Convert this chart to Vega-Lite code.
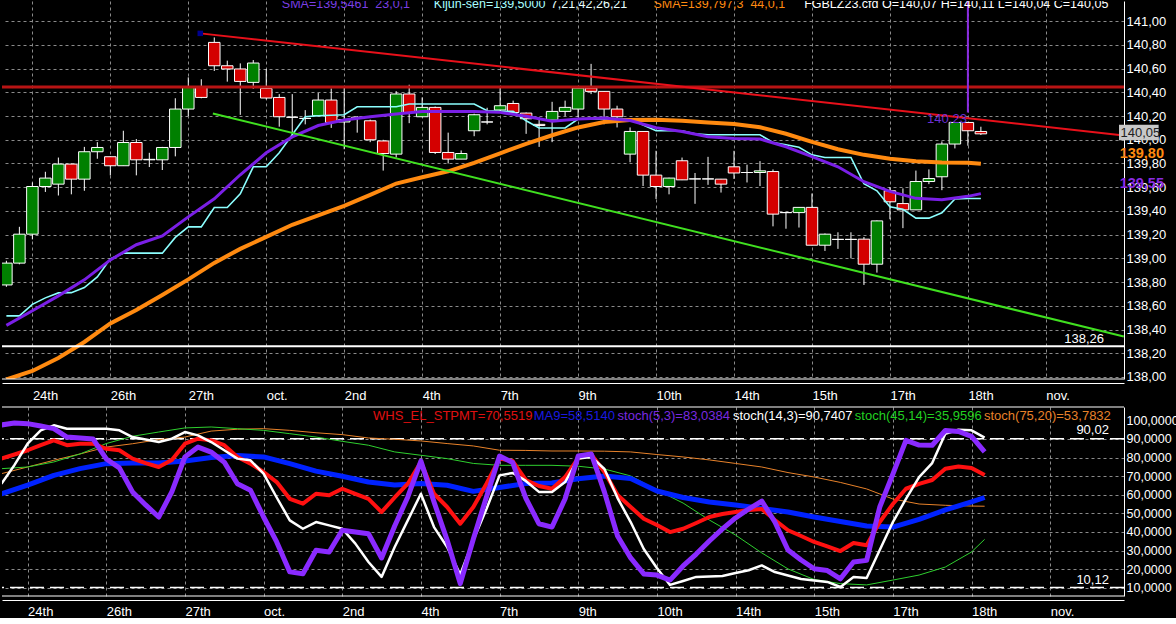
{
  "$schema": "https://vega.github.io/schema/vega-lite/v6.json",
  "background": "black",
  "padding": 0,
  "spacing": 4,
  "config": {
    "font": "Liberation Sans",
    "view": {"stroke": null},
    "axis": {"ticks": false, "title": null, "labelColor": "white", "domainColor": "white", "gridColor": "#8a8a8a", "gridDash": [3, 3], "labelFlush": false, "labelOverlap": false, "labelFont": "Liberation Sans", "tickCount": 40}
  },
  "datasets": {
    "one": [{}],
    "bars": [
      {"i":0,"o":138.776,"h":138.98,"l":138.76,"c":138.96,"kij":138.515,"s23":138.435,"s44":137.979},
      {"i":1,"o":138.96,"h":139.266,"l":138.95,"c":139.204,"kij":138.515},
      {"i":2,"o":139.204,"h":139.64,"l":139.16,"c":139.606,"kij":138.612,"s23":138.559,"s44":138.051},
      {"i":3,"o":139.606,"h":139.73,"l":139.56,"c":139.677,"kij":138.667},
      {"i":4,"o":139.626,"h":139.85,"l":139.53,"c":139.795,"kij":138.709,"s23":138.684,"s44":138.16},
      {"i":5,"o":139.795,"h":139.8,"l":139.54,"c":139.668,"kij":138.711},
      {"i":6,"o":139.668,"h":139.94,"l":139.57,"c":139.899,"kij":138.754,"s23":138.819,"s44":138.295},
      {"i":7,"o":139.899,"h":139.98,"l":139.84,"c":139.935,"kij":138.844},
      {"i":8,"o":139.857,"h":139.86,"l":139.7,"c":139.781,"kij":138.996,"s23":138.987,"s44":138.451},
      {"i":9,"o":139.781,"h":140.076,"l":139.78,"c":139.977,"kij":139.044},
      {"i":10,"o":139.977,"h":140.006,"l":139.7,"c":139.831,"kij":139.044,"s23":139.115,"s44":138.565},
      {"i":11,"o":139.831,"h":139.89,"l":139.77,"c":139.835,"kij":139.044},
      {"i":12,"o":139.831,"h":139.94,"l":139.745,"c":139.935,"kij":139.044,"s23":139.19,"s44":138.692},
      {"i":13,"o":139.935,"h":140.35,"l":139.86,"c":140.259,"kij":139.177},
      {"i":14,"o":140.259,"h":140.526,"l":140.2,"c":140.441,"kij":139.266,"s23":139.35,"s44":138.823},
      {"i":15,"o":140.441,"h":140.51,"l":140.35,"c":140.357,"kij":139.266},
      {"i":16,"o":140.821,"h":140.863,"l":140.58,"c":140.624,"kij":139.429,"s23":139.502,"s44":138.962},
      {"i":17,"o":140.624,"h":140.667,"l":140.49,"c":140.597,"kij":139.429},
      {"i":18,"o":140.597,"h":140.644,"l":140.21,"c":140.492,"kij":139.544,"s23":139.705,"s44":139.08},
      {"i":19,"o":140.484,"h":140.672,"l":140.43,"c":140.647,"kij":139.772},
      {"i":20,"o":140.433,"h":140.597,"l":140.34,"c":140.352,"kij":139.772,"s23":139.89,"s44":139.181},
      {"i":21,"o":140.357,"h":140.385,"l":140.11,"c":140.194,"kij":139.89},
      {"i":22,"o":140.19,"h":140.385,"l":140.02,"c":140.19,"kij":140.042,"s23":140.024,"s44":139.283},
      {"i":23,"o":140.18,"h":140.25,"l":140.13,"c":140.18,"kij":140.194},
      {"i":24,"o":140.203,"h":140.394,"l":140.2,"c":140.335,"kij":140.203,"s23":140.12,"s44":139.363},
      {"i":25,"o":140.335,"h":140.433,"l":140.1,"c":140.146,"kij":140.207},
      {"i":26,"o":140.15,"h":140.44,"l":139.92,"c":140.17,"kij":140.211,"s23":140.166,"s44":139.443},
      {"i":27,"o":140.19,"h":140.2,"l":140.06,"c":140.18,"kij":140.278},
      {"i":28,"o":140.16,"h":140.17,"l":139.98,"c":140.0,"kij":140.278,"s23":140.194,"s44":139.536},
      {"i":29,"o":139.99,"h":140.0,"l":139.74,"c":139.884,"kij":140.278},
      {"i":30,"o":139.879,"h":140.41,"l":139.85,"c":140.386,"kij":140.278,"s23":140.217,"s44":139.631},
      {"i":31,"o":140.386,"h":140.464,"l":140.14,"c":140.23,"kij":140.301},
      {"i":32,"o":140.194,"h":140.357,"l":140.19,"c":140.273,"kij":140.301,"s23":140.239,"s44":139.684},
      {"i":33,"o":140.273,"h":140.28,"l":139.88,"c":139.893,"kij":140.301},
      {"i":34,"o":139.893,"h":140.06,"l":139.8,"c":139.837,"kij":140.301,"s23":140.239,"s44":139.734},
      {"i":35,"o":139.837,"h":139.91,"l":139.837,"c":139.884,"kij":140.301},
      {"i":36,"o":140.076,"h":140.22,"l":140.03,"c":140.211,"kij":140.301,"s23":140.239,"s44":139.806},
      {"i":37,"o":140.15,"h":140.27,"l":140.13,"c":140.15,"kij":140.245},
      {"i":38,"o":140.251,"h":140.44,"l":140.24,"c":140.287,"kij":140.239,"s23":140.231,"s44":139.886},
      {"i":39,"o":140.306,"h":140.33,"l":140.22,"c":140.23,"kij":140.239},
      {"i":40,"o":140.225,"h":140.23,"l":140.05,"c":140.177,"kij":140.16,"s23":140.198,"s44":139.966},
      {"i":41,"o":140.13,"h":140.19,"l":139.94,"c":140.12,"kij":140.099},
      {"i":42,"o":140.166,"h":140.32,"l":139.98,"c":140.239,"kij":140.099,"s23":140.156,"s44":140.038},
      {"i":43,"o":140.239,"h":140.33,"l":140.2,"c":140.273,"kij":140.099},
      {"i":44,"o":140.259,"h":140.44,"l":140.19,"c":140.436,"kij":140.175,"s23":140.176,"s44":140.104},
      {"i":45,"o":140.436,"h":140.64,"l":140.385,"c":140.408,"kij":140.175},
      {"i":46,"o":140.408,"h":140.41,"l":140.13,"c":140.259,"kij":140.175,"s23":140.183,"s44":140.149},
      {"i":47,"o":140.259,"h":140.287,"l":140.104,"c":140.194,"kij":140.175},
      {"i":48,"o":139.879,"h":140.104,"l":139.81,"c":140.07,"kij":140.175,"s23":140.162,"s44":140.166},
      {"i":49,"o":140.07,"h":140.07,"l":139.61,"c":139.702,"kij":140.124},
      {"i":50,"o":139.702,"h":139.907,"l":139.5,"c":139.606,"kij":140.076,"s23":140.101,"s44":140.169},
      {"i":51,"o":139.606,"h":139.68,"l":139.54,"c":139.677,"kij":140.076},
      {"i":52,"o":139.823,"h":139.85,"l":139.66,"c":139.662,"kij":140.076,"s23":140.069,"s44":140.16},
      {"i":53,"o":139.67,"h":139.72,"l":139.46,"c":139.67,"kij":140.051},
      {"i":54,"o":139.67,"h":139.856,"l":139.62,"c":139.67,"kij":140.042,"s23":140.025,"s44":140.146},
      {"i":55,"o":139.668,"h":139.67,"l":139.555,"c":139.626,"kij":140.042},
      {"i":56,"o":139.772,"h":139.907,"l":139.67,"c":139.72,"kij":140.042,"s23":140.011,"s44":140.132},
      {"i":57,"o":139.724,"h":139.79,"l":139.64,"c":139.724,"kij":140.042},
      {"i":58,"o":139.724,"h":139.82,"l":139.61,"c":139.738,"kij":140.042,"s23":140.006,"s44":140.105},
      {"i":59,"o":139.732,"h":139.75,"l":139.27,"c":139.373,"kij":139.977},
      {"i":60,"o":139.386,"h":139.39,"l":139.25,"c":139.386,"kij":139.958,"s23":139.941,"s44":140.051},
      {"i":61,"o":139.386,"h":139.43,"l":139.26,"c":139.43,"kij":139.937},
      {"i":62,"o":139.43,"h":139.547,"l":139.11,"c":139.111,"kij":139.873,"s23":139.858,"s44":139.983},
      {"i":63,"o":139.111,"h":139.21,"l":139.063,"c":139.204,"kij":139.851},
      {"i":64,"o":139.16,"h":139.22,"l":139.08,"c":139.16,"kij":139.851,"s23":139.772,"s44":139.92},
      {"i":65,"o":139.16,"h":139.22,"l":139.0,"c":139.16,"kij":139.851},
      {"i":66,"o":139.162,"h":139.18,"l":138.776,"c":138.951,"kij":139.629,"s23":139.646,"s44":139.873},
      {"i":67,"o":138.951,"h":139.32,"l":138.88,"c":139.316,"kij":139.57},
      {"i":68,"o":139.57,"h":139.6,"l":139.33,"c":139.477,"kij":139.435,"s23":139.565,"s44":139.84},
      {"i":69,"o":139.462,"h":139.59,"l":139.255,"c":139.409,"kij":139.414},
      {"i":70,"o":139.409,"h":139.74,"l":139.409,"c":139.648,"kij":139.339,"s23":139.506,"s44":139.819},
      {"i":71,"o":139.648,"h":139.75,"l":139.626,"c":139.673,"kij":139.339},
      {"i":72,"o":139.688,"h":139.986,"l":139.575,"c":139.964,"kij":139.384,"s23":139.494,"s44":139.808},
      {"i":73,"o":139.964,"h":140.15,"l":139.927,"c":140.146,"kij":139.5},
      {"i":74,"o":140.146,"h":140.15,"l":139.95,"c":140.076,"kij":139.505,"s23":139.523,"s44":139.806},
      {"i":75,"o":140.07,"h":140.11,"l":140.04,"c":140.05,"kij":139.505,"s23":139.546,"s44":139.797}
    ],
    "trend": [
      {"k":"red","i":14.92,"v":140.897},
      {"k":"red","i":86,"v":140.037},
      {"k":"grn","i":15.89,"v":140.222},
      {"k":"grn","i":86,"v":138.341}
    ],
    "osc": [
      {"i":0,"whs":79.4,"st5":97.5,"st14":65.9,"ma9":60.5,"st45":74.0,"st75":71.3},
      {"i":1,"whs":81.6,"st5":98.5,"st14":76.0},
      {"i":2,"whs":83.9,"st5":98.2,"st14":87.4,"ma9":65.1,"st45":74.9,"st75":74.9},
      {"i":3,"whs":86.7,"st5":96.9,"st14":94.6},
      {"i":4,"whs":89.2,"st5":95.5,"st14":97.3,"ma9":70.4,"st45":77.6,"st75":78.5},
      {"i":5,"whs":86.6,"st5":91.0,"st14":95.5},
      {"i":6,"whs":87.4,"st5":90.5,"st14":95.5,"ma9":74.0,"st45":81.9,"st75":81.9},
      {"i":7,"whs":87.4,"st5":89.9,"st14":95.5},
      {"i":8,"whs":84.7,"st5":79.2,"st14":95.5,"ma9":76.7,"st45":87.5,"st75":85.6},
      {"i":9,"whs":83.9,"st5":74.4,"st14":94.6},
      {"i":10,"whs":79.4,"st5":61.5,"st14":91.0,"ma9":77.0,"st45":91.4,"st75":87.4},
      {"i":11,"whs":77.0,"st5":54.5,"st14":89.7},
      {"i":12,"whs":74.9,"st5":48.0,"st14":88.3,"ma9":77.0,"st45":93.7,"st75":89.6},
      {"i":13,"whs":78.7,"st5":61.5,"st14":90.1},
      {"i":14,"whs":87.4,"st5":80.3,"st14":93.7,"ma9":78.1,"st45":95.9,"st75":91.0},
      {"i":15,"whs":90.1,"st5":85.6,"st14":91.9},
      {"i":16,"whs":89.2,"st5":82.9,"st14":88.3,"ma9":80.0,"st45":96.4,"st75":94.2},
      {"i":17,"whs":86.6,"st5":77.5,"st14":83.9},
      {"i":18,"whs":80.3,"st5":65.9,"st14":79.4,"ma9":81.1,"st45":95.5,"st75":95.2},
      {"i":19,"whs":76.7,"st5":62.4,"st14":78.5},
      {"i":20,"whs":72.2,"st5":48.0,"st14":71.3,"ma9":80.3,"st45":94.6,"st75":95.5},
      {"i":21,"whs":66.8,"st5":34.6,"st14":58.5},
      {"i":22,"whs":57.8,"st5":18.5,"st14":46.2,"ma9":76.7,"st45":92.8,"st75":94.6},
      {"i":23,"whs":55.2,"st5":17.5,"st14":41.7},
      {"i":24,"whs":60.5,"st5":30.1,"st14":45.3,"ma9":72.7,"st45":91.0,"st75":93.3},
      {"i":25,"whs":59.7,"st5":29.2,"st14":43.5},
      {"i":26,"whs":63.2,"st5":40.9,"st14":41.7,"ma9":69.9,"st45":88.7,"st75":92.3},
      {"i":27,"whs":60.5,"st5":39.9,"st14":33.7},
      {"i":28,"whs":57.8,"st5":39.0,"st14":23.8,"ma9":66.8,"st45":86.6,"st75":90.5},
      {"i":29,"whs":50.7,"st5":26.0,"st14":15.8},
      {"i":30,"whs":58.5,"st5":43.2,"st14":31.9,"ma9":65.2,"st45":83.0,"st75":89.8},
      {"i":31,"whs":65.9,"st5":58.8,"st14":46.2},
      {"i":32,"whs":77.6,"st5":78.1,"st14":60.5,"ma9":66.0,"st45":81.2,"st75":88.9},
      {"i":33,"whs":60.5,"st5":56.1,"st14":42.6},
      {"i":34,"whs":53.4,"st5":35.6,"st14":31.9,"ma9":65.1,"st45":79.4,"st75":87.5},
      {"i":35,"whs":44.4,"st5":12.2,"st14":17.1},
      {"i":36,"whs":53.4,"st5":36.2,"st14":35.6,"ma9":61.8,"st45":76.8,"st75":86.2},
      {"i":37,"whs":65.9,"st5":58.8,"st14":52.3},
      {"i":38,"whs":79.4,"st5":80.8,"st14":70.4,"ma9":63.9,"st45":75.8,"st75":83.9},
      {"i":39,"whs":78.1,"st5":77.3,"st14":71.7},
      {"i":40,"whs":67.9,"st5":58.2,"st14":67.4,"ma9":66.0,"st45":75.8,"st75":83.8},
      {"i":41,"whs":64.7,"st5":44.4,"st14":61.5},
      {"i":42,"whs":63.2,"st5":42.6,"st14":61.5,"ma9":66.3,"st45":75.8,"st75":83.5},
      {"i":43,"whs":69.5,"st5":57.8,"st14":66.8},
      {"i":44,"whs":79.7,"st5":80.8,"st14":79.4,"ma9":68.6,"st45":75.3,"st75":83.5},
      {"i":45,"whs":81.6,"st5":81.9,"st14":80.3},
      {"i":46,"whs":72.2,"st5":61.4,"st14":73.8,"ma9":70.1,"st45":73.8,"st75":83.4},
      {"i":47,"whs":59.8,"st5":37.8,"st14":58.2},
      {"i":48,"whs":53.4,"st5":26.0,"st14":45.3,"ma9":68.7,"st45":70.1,"st75":83.0},
      {"i":49,"whs":47.1,"st5":17.4,"st14":30.8},
      {"i":50,"whs":43.7,"st5":16.8,"st14":20.6,"ma9":62.0,"st45":62.5,"st75":81.6},
      {"i":51,"whs":39.9,"st5":14.1,"st14":11.5},
      {"i":52,"whs":41.7,"st5":21.7,"st14":13.6,"ma9":58.5,"st45":55.5,"st75":80.3},
      {"i":53,"whs":44.8,"st5":28.1,"st14":15.8},
      {"i":54,"whs":48.0,"st5":35.1,"st14":16.0,"ma9":56.1,"st45":46.4,"st75":78.7},
      {"i":55,"whs":49.6,"st5":41.6,"st14":16.3},
      {"i":56,"whs":50.7,"st5":47.5,"st14":17.9,"ma9":54.5,"st45":38.3,"st75":76.8},
      {"i":57,"whs":51.8,"st5":52.3,"st14":19.4},
      {"i":58,"whs":52.3,"st5":56.6,"st14":22.0,"ma9":52.6,"st45":28.7,"st75":74.9},
      {"i":59,"whs":46.4,"st5":45.3,"st14":18.4},
      {"i":60,"whs":40.9,"st5":30.3,"st14":16.6,"ma9":50.7,"st45":20.1,"st75":71.9},
      {"i":61,"whs":37.8,"st5":24.9,"st14":14.7},
      {"i":62,"whs":34.6,"st5":20.2,"st14":13.9,"ma9":48.0,"st45":14.4,"st75":69.5},
      {"i":63,"whs":32.2,"st5":19.2,"st14":13.1},
      {"i":64,"whs":29.7,"st5":14.8,"st14":10.4,"ma9":45.6,"st45":12.2,"st75":66.6},
      {"i":65,"whs":34.0,"st5":23.8,"st14":15.8},
      {"i":66,"whs":32.8,"st5":24.7,"st14":15.2,"ma9":43.2,"st45":11.5,"st75":63.1},
      {"i":67,"whs":45.3,"st5":53.4,"st14":30.3},
      {"i":68,"whs":55.0,"st5":71.1,"st14":45.3,"ma9":42.6,"st45":14.1,"st75":57.7},
      {"i":69,"whs":63.2,"st5":89.2,"st14":57.7},
      {"i":70,"whs":65.8,"st5":86.7,"st14":69.5,"ma9":46.7,"st45":16.8,"st75":55.0},
      {"i":71,"whs":67.9,"st5":86.6,"st14":77.0},
      {"i":72,"whs":74.0,"st5":94.5,"st14":92.8,"ma9":51.8,"st45":21.1,"st75":54.3},
      {"i":73,"whs":75.2,"st5":94.0,"st14":94.9},
      {"i":74,"whs":74.4,"st5":91.4,"st14":94.6,"ma9":56.1,"st45":29.2,"st75":53.9},
      {"i":75,"whs":70.6,"st5":83.0,"st14":90.7,"ma9":58.5,"st45":36.0,"st75":53.8}
    ]
  },
  "vconcat": [
    {
      "width": 1122,
      "height": 378,
      "layer": [
        {
          "data": {"name": "bars"},
          "mark": {"type": "rule", "color": "white", "strokeWidth": 1, "clip": true},
          "encoding": {
            "x": {"field": "i", "type": "quantitative", "scale": {"domain": [0.047, 85.63], "nice": false, "zero": false},
              "axis": {"values": [2, 8, 14, 20, 26, 32, 38, 44, 50, 56, 62, 68, 74, 80], "labelExpr": "['24th','26th','27th','oct.','2nd','4th','7th','9th','10th','14th','15th','17th','18th','nov.'][round((datum.value-2)/6)]", "labelAlign": "left", "labelPadding": 6, "offset": 4, "grid": true, "labelFontSize": 13, "labelOverlap": false, "tickCount": 40}},
            "y": {"field": "l", "type": "quantitative", "scale": {"domain": [137.983, 141.17], "nice": false, "zero": false},
              "axis": {"orient": "right", "values": [138, 138.2, 138.4, 138.6, 138.8, 139, 139.2, 139.4, 139.6, 139.8, 140, 140.2, 140.4, 140.6, 140.8, 141], "labelExpr": "replace(format(datum.value, '.2f'), '.', ',')", "grid": true, "labelFontSize": 13, "labelPadding": 2, "labelOverlap": false, "tickCount": 40}},
            "y2": {"field": "h"}
          }
        },
        {
          "data": {"name": "bars"},
          "mark": {"type": "bar", "orient": "vertical", "size": 11.5, "stroke": "white", "strokeWidth": 1, "clip": true},
          "encoding": {
            "x": {"field": "i", "type": "quantitative", "scale": {"domain": [0.047, 85.63], "nice": false, "zero": false}},
            "y": {"field": "o", "type": "quantitative", "scale": {"domain": [137.983, 141.17], "nice": false, "zero": false}},
            "y2": {"field": "c"},
            "fill": {"condition": {"test": "datum.c >= datum.o", "value": "#008000"}, "value": "#d40000"}
          }
        },
        {
          "data": {"name": "bars"},
          "transform": [{"filter": "isValid(datum.kij)"}],
          "mark": {"type": "line", "color": "#8cffff", "strokeWidth": 1.6, "clip": true},
          "encoding": {
            "x": {"field": "i", "type": "quantitative", "scale": {"domain": [0.047, 85.63], "nice": false, "zero": false}},
            "y": {"field": "kij", "type": "quantitative", "scale": {"domain": [137.983, 141.17], "nice": false, "zero": false}}
          }
        },
        {
          "data": {"name": "bars"},
          "transform": [{"filter": "isValid(datum.s44)"}],
          "mark": {"type": "line", "color": "#ff8a10", "strokeWidth": 4, "clip": true},
          "encoding": {
            "x": {"field": "i", "type": "quantitative", "scale": {"domain": [0.047, 85.63], "nice": false, "zero": false}},
            "y": {"field": "s44", "type": "quantitative", "scale": {"domain": [137.983, 141.17], "nice": false, "zero": false}}
          }
        },
        {
          "data": {"name": "bars"},
          "transform": [{"filter": "isValid(datum.s23)"}],
          "mark": {"type": "line", "color": "#7a1fe6", "strokeWidth": 3, "clip": true},
          "encoding": {
            "x": {"field": "i", "type": "quantitative", "scale": {"domain": [0.047, 85.63], "nice": false, "zero": false}},
            "y": {"field": "s23", "type": "quantitative", "scale": {"domain": [137.983, 141.17], "nice": false, "zero": false}}
          }
        },
        {
          "data": {"name": "one"},
          "mark": {"type": "rule", "color": "#b81414", "strokeWidth": 3},
          "encoding": {"y": {"datum": 140.445, "type": "quantitative", "scale": {"domain": [137.983, 141.17], "nice": false, "zero": false}}}
        },
        {
          "data": {"name": "one"},
          "mark": {"type": "rule", "color": "white", "strokeWidth": 2},
          "encoding": {"y": {"datum": 138.26, "type": "quantitative", "scale": {"domain": [137.983, 141.17], "nice": false, "zero": false}}}
        },
        {
          "data": {"name": "one"},
          "mark": {"type": "rule", "color": "white", "strokeWidth": 1},
          "encoding": {"y": {"datum": 137.983, "type": "quantitative", "scale": {"domain": [137.983, 141.17], "nice": false, "zero": false}}}
        },
        {
          "data": {"name": "trend"},
          "transform": [{"filter": "datum.k === 'red'"}],
          "mark": {"type": "line", "color": "#e8101a", "strokeWidth": 2, "clip": true},
          "encoding": {
            "x": {"field": "i", "type": "quantitative", "scale": {"domain": [0.047, 85.63], "nice": false, "zero": false}},
            "y": {"field": "v", "type": "quantitative", "scale": {"domain": [137.983, 141.17], "nice": false, "zero": false}}
          }
        },
        {
          "data": {"name": "trend"},
          "transform": [{"filter": "datum.k === 'grn'"}],
          "mark": {"type": "line", "color": "#40e020", "strokeWidth": 2, "clip": true},
          "encoding": {
            "x": {"field": "i", "type": "quantitative", "scale": {"domain": [0.047, 85.63], "nice": false, "zero": false}},
            "y": {"field": "v", "type": "quantitative", "scale": {"domain": [137.983, 141.17], "nice": false, "zero": false}}
          }
        },
        {
          "data": {"name": "one"},
          "mark": {"type": "rule", "color": "#8a2be2", "strokeWidth": 2},
          "encoding": {
            "x": {"datum": 74, "type": "quantitative", "scale": {"domain": [0.047, 85.63], "nice": false, "zero": false}},
            "y": {"datum": 141.17, "type": "quantitative", "scale": {"domain": [137.983, 141.17], "nice": false, "zero": false}},
            "y2": {"datum": 140.23}
          }
        },
        {
          "data": {"name": "one"},
          "mark": {"type": "square", "color": "#000090", "size": 30, "opacity": 1},
          "encoding": {
            "x": {"datum": 14.92, "type": "quantitative", "scale": {"domain": [0.047, 85.63], "nice": false, "zero": false}},
            "y": {"datum": 140.897, "type": "quantitative", "scale": {"domain": [137.983, 141.17], "nice": false, "zero": false}}
          }
        },
        {
          "data": {"name": "one"},
          "mark": {"type": "text", "text": "140,23", "color": "#6a2fd0", "fontSize": 13, "align": "right", "baseline": "top", "dx": -1},
          "encoding": {
            "x": {"datum": 74, "type": "quantitative", "scale": {"domain": [0.047, 85.63], "nice": false, "zero": false}},
            "y": {"datum": 140.225, "type": "quantitative", "scale": {"domain": [137.983, 141.17], "nice": false, "zero": false}}
          }
        },
        {
          "data": {"name": "one"},
          "mark": {"type": "text", "text": "138,26", "color": "white", "fontSize": 13, "align": "right", "baseline": "middle"},
          "encoding": {
            "x": {"datum": 84.48, "type": "quantitative", "scale": {"domain": [0.047, 85.63], "nice": false, "zero": false}},
            "y": {"datum": 138.318, "type": "quantitative", "scale": {"domain": [137.983, 141.17], "nice": false, "zero": false}}
          }
        },
        {
          "data": {"name": "one"},
          "mark": {"type": "rect", "color": "#c8c8c8"},
          "encoding": {
            "x": {"datum": 85.63, "type": "quantitative", "scale": {"domain": [0.047, 85.63], "nice": false, "zero": false}},
            "x2": {"datum": 88.68},
            "y": {"datum": 140.127, "type": "quantitative", "scale": {"domain": [137.983, 141.17], "nice": false, "zero": false}},
            "y2": {"datum": 139.997}
          }
        },
        {
          "data": {"name": "one"},
          "mark": {"type": "text", "text": "140,05", "color": "#202020", "fontSize": 13, "align": "left", "baseline": "middle"},
          "encoding": {
            "x": {"datum": 85.75, "type": "quantitative", "scale": {"domain": [0.047, 85.63], "nice": false, "zero": false}},
            "y": {"datum": 140.058, "type": "quantitative", "scale": {"domain": [137.983, 141.17], "nice": false, "zero": false}}
          }
        },
        {
          "data": {"name": "one"},
          "mark": {"type": "text", "text": "139,80", "color": "#ff8a10", "fontSize": 14.5, "fontWeight": "bold", "align": "left", "baseline": "middle"},
          "encoding": {
            "x": {"datum": 85.68, "type": "quantitative", "scale": {"domain": [0.047, 85.63], "nice": false, "zero": false}},
            "y": {"datum": 139.884, "type": "quantitative", "scale": {"domain": [137.983, 141.17], "nice": false, "zero": false}}
          }
        },
        {
          "data": {"name": "one"},
          "mark": {"type": "text", "text": "139,55", "color": "#8a2be2", "fontSize": 14.5, "fontWeight": "bold", "align": "left", "baseline": "middle"},
          "encoding": {
            "x": {"datum": 85.68, "type": "quantitative", "scale": {"domain": [0.047, 85.63], "nice": false, "zero": false}},
            "y": {"datum": 139.631, "type": "quantitative", "scale": {"domain": [137.983, 141.17], "nice": false, "zero": false}}
          }
        },
        {
          "data": {"name": "one"},
          "mark": {"type": "text", "text": "SMA=139,5461\u00a0\u00a023,0,1", "color": "#7b3fe4", "fontSize": 12.5, "align": "left", "baseline": "middle", "clip": true},
          "encoding": {
            "x": {"datum": 21.2, "type": "quantitative", "scale": {"domain": [0.047, 85.63], "nice": false, "zero": false}},
            "y": {"datum": 141.145, "type": "quantitative", "scale": {"domain": [137.983, 141.17], "nice": false, "zero": false}}
          }
        },
        {
          "data": {"name": "one"},
          "mark": {"type": "text", "text": "Kijun-sen=139,5000", "color": "#a8ffff", "fontSize": 12.5, "align": "left", "baseline": "middle", "clip": true},
          "encoding": {
            "x": {"datum": 32.9, "type": "quantitative", "scale": {"domain": [0.047, 85.63], "nice": false, "zero": false}},
            "y": {"datum": 141.145, "type": "quantitative", "scale": {"domain": [137.983, 141.17], "nice": false, "zero": false}}
          }
        },
        {
          "data": {"name": "one"},
          "mark": {"type": "text", "text": "7,21,42,26,21", "color": "#e8ffff", "fontSize": 12.5, "align": "left", "baseline": "middle", "clip": true},
          "encoding": {
            "x": {"datum": 41.9, "type": "quantitative", "scale": {"domain": [0.047, 85.63], "nice": false, "zero": false}},
            "y": {"datum": 141.145, "type": "quantitative", "scale": {"domain": [137.983, 141.17], "nice": false, "zero": false}}
          }
        },
        {
          "data": {"name": "one"},
          "mark": {"type": "text", "text": "SMA=139,797,3\u00a0\u00a044,0,1", "color": "#ff8a10", "fontSize": 12.5, "align": "left", "baseline": "middle", "clip": true},
          "encoding": {
            "x": {"datum": 49.8, "type": "quantitative", "scale": {"domain": [0.047, 85.63], "nice": false, "zero": false}},
            "y": {"datum": 141.145, "type": "quantitative", "scale": {"domain": [137.983, 141.17], "nice": false, "zero": false}}
          }
        },
        {
          "data": {"name": "one"},
          "mark": {"type": "text", "text": "FGBLZ23.cfd O=140,07 H=140,11 L=140,04 C=140,05", "color": "white", "fontSize": 12.5, "align": "left", "baseline": "middle", "clip": true},
          "encoding": {
            "x": {"datum": 61.4, "type": "quantitative", "scale": {"domain": [0.047, 85.63], "nice": false, "zero": false}},
            "y": {"datum": 141.145, "type": "quantitative", "scale": {"domain": [137.983, 141.17], "nice": false, "zero": false}}
          }
        }
      ]
    },
    {
      "width": 1122,
      "height": 189,
      "layer": [
        {
          "data": {"name": "one"},
          "mark": {"type": "rule", "color": "white", "strokeWidth": 1.5, "strokeDash": [14, 6]},
          "encoding": {"y": {"datum": 90.02, "type": "quantitative", "scale": {"domain": [5.54, 107.15], "nice": false, "zero": false}}}
        },
        {
          "data": {"name": "one"},
          "mark": {"type": "rule", "color": "white", "strokeWidth": 1.5, "strokeDash": [14, 6]},
          "encoding": {"y": {"datum": 10.12, "type": "quantitative", "scale": {"domain": [5.54, 107.15], "nice": false, "zero": false}}}
        },
        {
          "data": {"name": "one"},
          "mark": {"type": "rule", "color": "white", "strokeWidth": 1},
          "encoding": {"y": {"datum": 107.15, "type": "quantitative", "scale": {"domain": [5.54, 107.15], "nice": false, "zero": false}}}
        },
        {
          "data": {"name": "one"},
          "mark": {"type": "rule", "color": "white", "strokeWidth": 1},
          "encoding": {"y": {"datum": 5.54, "type": "quantitative", "scale": {"domain": [5.54, 107.15], "nice": false, "zero": false}}}
        },
        {
          "data": {"name": "osc"},
          "transform": [{"filter": "isValid(datum.st75)"}],
          "mark": {"type": "line", "color": "#e8822a", "strokeWidth": 1, "clip": true},
          "encoding": {
            "x": {"field": "i", "type": "quantitative", "scale": {"domain": [0.047, 85.63], "nice": false, "zero": false},
              "axis": {"values": [2, 8, 14, 20, 26, 32, 38, 44, 50, 56, 62, 68, 74, 80], "labelExpr": "['24th','26th','27th','oct.','2nd','4th','7th','9th','10th','14th','15th','17th','18th','nov.'][round((datum.value-2)/6)]", "labelAlign": "left", "labelPadding": 5, "offset": 4, "grid": true, "labelFontSize": 13, "labelOverlap": false, "tickCount": 40}},
            "y": {"field": "st75", "type": "quantitative", "scale": {"domain": [5.54, 107.15], "nice": false, "zero": false},
              "axis": {"orient": "right", "values": [10, 20, 30, 40, 50, 60, 70, 80, 90, 100], "labelExpr": "replace(format(datum.value, '.4f'), '.', ',')", "grid": true, "gridOpacity": {"condition": {"test": "datum.value > 95", "value": 0}, "value": 1}, "labelFontSize": 12.5, "labelPadding": 2, "labelOverlap": false, "tickCount": 40}}
          }
        },
        {
          "data": {"name": "osc"},
          "transform": [{"filter": "isValid(datum.st45)"}],
          "mark": {"type": "line", "color": "#2fd02f", "strokeWidth": 1, "clip": true},
          "encoding": {
            "x": {"field": "i", "type": "quantitative", "scale": {"domain": [0.047, 85.63], "nice": false, "zero": false}},
            "y": {"field": "st45", "type": "quantitative", "scale": {"domain": [5.54, 107.15], "nice": false, "zero": false}}
          }
        },
        {
          "data": {"name": "osc"},
          "transform": [{"filter": "isValid(datum.ma9)"}],
          "mark": {"type": "line", "color": "#0022ff", "strokeWidth": 5, "strokeJoin": "round", "clip": true},
          "encoding": {
            "x": {"field": "i", "type": "quantitative", "scale": {"domain": [0.047, 85.63], "nice": false, "zero": false}},
            "y": {"field": "ma9", "type": "quantitative", "scale": {"domain": [5.54, 107.15], "nice": false, "zero": false}}
          }
        },
        {
          "data": {"name": "osc"},
          "mark": {"type": "line", "color": "#ff1010", "strokeWidth": 4, "strokeJoin": "round", "clip": true},
          "encoding": {
            "x": {"field": "i", "type": "quantitative", "scale": {"domain": [0.047, 85.63], "nice": false, "zero": false}},
            "y": {"field": "whs", "type": "quantitative", "scale": {"domain": [5.54, 107.15], "nice": false, "zero": false}}
          }
        },
        {
          "data": {"name": "osc"},
          "mark": {"type": "line", "color": "white", "strokeWidth": 2.5, "strokeJoin": "round", "clip": true},
          "encoding": {
            "x": {"field": "i", "type": "quantitative", "scale": {"domain": [0.047, 85.63], "nice": false, "zero": false}},
            "y": {"field": "st14", "type": "quantitative", "scale": {"domain": [5.54, 107.15], "nice": false, "zero": false}}
          }
        },
        {
          "data": {"name": "osc"},
          "mark": {"type": "line", "color": "#8a2aff", "strokeWidth": 5, "strokeJoin": "round", "clip": true},
          "encoding": {
            "x": {"field": "i", "type": "quantitative", "scale": {"domain": [0.047, 85.63], "nice": false, "zero": false}},
            "y": {"field": "st5", "type": "quantitative", "scale": {"domain": [5.54, 107.15], "nice": false, "zero": false}}
          }
        },
        {
          "data": {"name": "one"},
          "mark": {"type": "text", "text": "90,02", "color": "white", "fontSize": 13, "align": "right", "baseline": "middle"},
          "encoding": {
            "x": {"datum": 84.48, "type": "quantitative", "scale": {"domain": [0.047, 85.63], "nice": false, "zero": false}},
            "y": {"datum": 94.6, "type": "quantitative", "scale": {"domain": [5.54, 107.15], "nice": false, "zero": false}}
          }
        },
        {
          "data": {"name": "one"},
          "mark": {"type": "text", "text": "10,12", "color": "white", "fontSize": 13, "align": "right", "baseline": "middle"},
          "encoding": {
            "x": {"datum": 84.48, "type": "quantitative", "scale": {"domain": [0.047, 85.63], "nice": false, "zero": false}},
            "y": {"datum": 14.3, "type": "quantitative", "scale": {"domain": [5.54, 107.15], "nice": false, "zero": false}}
          }
        },
        {
          "data": {"name": "one"},
          "mark": {"type": "text", "text": "WHS_EL_STPMT=70,5519", "color": "#e01010", "fontSize": 13, "align": "left", "baseline": "middle"},
          "encoding": {
            "x": {"datum": 28.35, "type": "quantitative", "scale": {"domain": [0.047, 85.63], "nice": false, "zero": false}},
            "y": {"datum": 102.3, "type": "quantitative", "scale": {"domain": [5.54, 107.15], "nice": false, "zero": false}}
          }
        },
        {
          "data": {"name": "one"},
          "mark": {"type": "text", "text": "MA9=58,5140", "color": "#1a1ae0", "fontSize": 13, "align": "left", "baseline": "middle"},
          "encoding": {
            "x": {"datum": 40.6, "type": "quantitative", "scale": {"domain": [0.047, 85.63], "nice": false, "zero": false}},
            "y": {"datum": 102.3, "type": "quantitative", "scale": {"domain": [5.54, 107.15], "nice": false, "zero": false}}
          }
        },
        {
          "data": {"name": "one"},
          "mark": {"type": "text", "text": "stoch(5,3)=83,0384", "color": "#7a2ae0", "fontSize": 13, "align": "left", "baseline": "middle"},
          "encoding": {
            "x": {"datum": 47.0, "type": "quantitative", "scale": {"domain": [0.047, 85.63], "nice": false, "zero": false}},
            "y": {"datum": 102.3, "type": "quantitative", "scale": {"domain": [5.54, 107.15], "nice": false, "zero": false}}
          }
        },
        {
          "data": {"name": "one"},
          "mark": {"type": "text", "text": "stoch(14,3)=90,7407", "color": "white", "fontSize": 13, "align": "left", "baseline": "middle"},
          "encoding": {
            "x": {"datum": 55.8, "type": "quantitative", "scale": {"domain": [0.047, 85.63], "nice": false, "zero": false}},
            "y": {"datum": 102.3, "type": "quantitative", "scale": {"domain": [5.54, 107.15], "nice": false, "zero": false}}
          }
        },
        {
          "data": {"name": "one"},
          "mark": {"type": "text", "text": "stoch(45,14)=35,9596", "color": "#22d022", "fontSize": 13, "align": "left", "baseline": "middle"},
          "encoding": {
            "x": {"datum": 65.1, "type": "quantitative", "scale": {"domain": [0.047, 85.63], "nice": false, "zero": false}},
            "y": {"datum": 102.3, "type": "quantitative", "scale": {"domain": [5.54, 107.15], "nice": false, "zero": false}}
          }
        },
        {
          "data": {"name": "one"},
          "mark": {"type": "text", "text": "stoch(75,20)=53,7832", "color": "#e8822a", "fontSize": 13, "align": "left", "baseline": "middle"},
          "encoding": {
            "x": {"datum": 74.95, "type": "quantitative", "scale": {"domain": [0.047, 85.63], "nice": false, "zero": false}},
            "y": {"datum": 102.3, "type": "quantitative", "scale": {"domain": [5.54, 107.15], "nice": false, "zero": false}}
          }
        }
      ]
    }
  ]
}
